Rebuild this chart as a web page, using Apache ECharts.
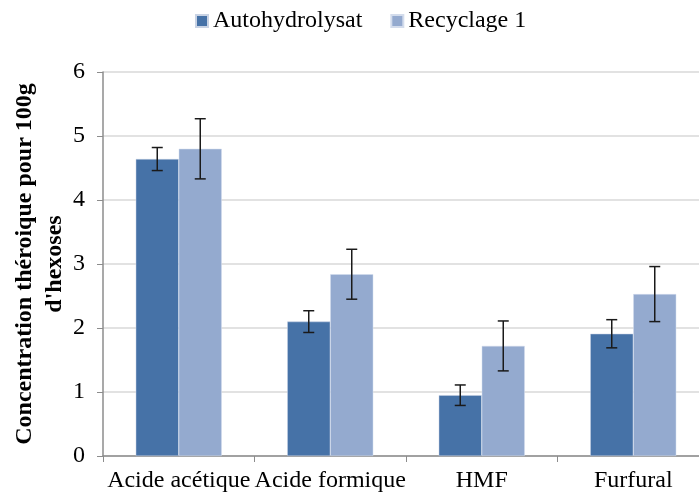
<!DOCTYPE html>
<html>
<head>
<meta charset="utf-8">
<script src="https://cdn.jsdelivr.net/npm/echarts@6/dist/echarts.min.js"></script>
<style>
html,body{margin:0;padding:0;background:#fff;}
#main{width:699px;height:495px;}
</style>
</head>
<body>
<div id="main"></div>
<script>
// donnees
var categories = ["Acide acétique", "Acide formique", "HMF", "Furfural"];
var autoValues = [4.64, 2.10, 0.95, 1.91];
var autoErr = [0.18, 0.17, 0.16, 0.22];
var recValues = [4.80, 2.84, 1.72, 2.53];
var recErr = [0.47, 0.39, 0.39, 0.43];
var yTicks = [0, 1, 2, 3, 4, 5, 6];

var FONT = "Liberation Serif";
var BAR_W = 43;

/**
 * barres d'erreur (custom series)
 */
function errorSeries(name, values, errs, shift) {
    var data = [];
    for (var i = 0; i < values.length; i++) {
        data.push([i, values[i] - errs[i], values[i] + errs[i]]);
    }
    return {
        name: name,
        type: "custom",
        silent: true,
        z: 10,
        data: data,
        renderItem: function (params, api) {
            var low = api.coord([api.value(0), api.value(1)]);
            var high = api.coord([api.value(0), api.value(2)]);
            var x = low[0] + shift;
            var half = 5.5;
            var st = { stroke: "#1a1a1a", lineWidth: 1.5 };
            return {
                type: "group",
                children: [
                    { type: "line", shape: { x1: x, y1: high[1], x2: x, y2: low[1] }, style: st },
                    { type: "line", shape: { x1: x - half, y1: high[1], x2: x + half, y2: high[1] }, style: st },
                    { type: "line", shape: { x1: x - half, y1: low[1], x2: x + half, y2: low[1] }, style: st }
                ]
            };
        }
    };
}

var myChart = echarts.init(document.getElementById("main"));
var option = {
    animation: false,
    legend: {
        data: ["Autohydrolysat", "Recyclage 1"],
        top: 4,
        left: 190,
        itemWidth: 12,
        itemHeight: 12,
        itemGap: 28,
        icon: "rect",
        textStyle: { fontFamily: FONT, fontSize: 24, color: "#000" }
    },
    grid: { left: 103, right: -10, top: 72, bottom: 39, containLabel: false, outerBoundsMode: "none" },
    xAxis: {
        type: "category",
        data: categories,
        axisLine: { lineStyle: { color: "#8c8c8c", width: 1.5 } },
        axisTick: { show: true, length: 6, lineStyle: { color: "#8c8c8c" } },
        axisLabel: { fontFamily: FONT, fontSize: 24, color: "#000", margin: 13, interval: 0 },
        splitLine: { show: false }
    },
    yAxis: {
        type: "value",
        min: 0,
        max: 6,
        interval: 1,
        name: "Concentration théroique pour 100g\nd'hexoses",
        nameLocation: "middle",
        nameRotate: 90,
        nameGap: 33,
        nameMoveOverlap: false,
        nameTextStyle: { fontFamily: FONT, fontSize: 24, fontWeight: "bold", color: "#000", lineHeight: 30 },
        axisLine: { show: true, lineStyle: { color: "#8c8c8c", width: 1.5 } },
        axisTick: { show: true, length: 6, lineStyle: { color: "#8c8c8c" } },
        axisLabel: {
            fontFamily: FONT, fontSize: 24, color: "#000", margin: 18,
            formatter: function (v) { return yTicks.indexOf(v) >= 0 ? String(v) : ""; }
        },
        splitLine: { lineStyle: { color: "#d9d9d9", width: 1.5 } }
    },
    series: [
        {
            name: "Autohydrolysat",
            type: "bar",
            data: autoValues,
            barWidth: BAR_W,
            barGap: "0%",
            itemStyle: { color: "#4672a7", borderColor: "#c9d3e4", borderWidth: 0.5 }
        },
        {
            name: "Recyclage 1",
            type: "bar",
            data: recValues,
            barWidth: BAR_W,
            barGap: "0%",
            itemStyle: { color: "#94aacf", borderColor: "#d3dcec", borderWidth: 0.5 }
        },
        errorSeries("Autohydrolysat", autoValues, autoErr, -BAR_W / 2),
        errorSeries("Recyclage 1", recValues, recErr, BAR_W / 2)
    ]
};
myChart.setOption(option);
</script>
</body>
</html>
